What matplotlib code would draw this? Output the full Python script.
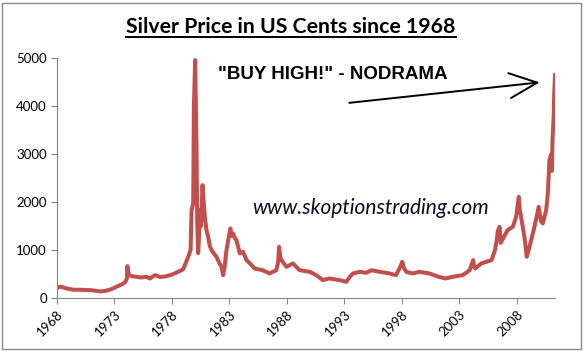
import matplotlib
matplotlib.use("Agg")
import matplotlib.pyplot as plt
from matplotlib.patches import Rectangle
from matplotlib.lines import Line2D

# silver price, US cents per ounce
years = [1968.0, 1968.2, 1968.4, 1968.6, 1969.0, 1969.45, 1970.0, 1970.6, 1971.0, 1971.5,
         1971.8, 1972.2, 1972.6, 1972.9, 1973.3, 1973.65, 1973.95, 1974.1, 1974.15, 1974.2,
         1974.3, 1974.5, 1974.95, 1975.3, 1975.8, 1976.1, 1976.55, 1977.0, 1977.55, 1978.0,
         1978.4, 1978.99, 1979.2, 1979.43, 1979.64, 1979.73, 1979.87, 1979.93, 1980.04, 1980.1,
         1980.16, 1980.22, 1980.3, 1980.38, 1980.45, 1980.55, 1980.68, 1980.78, 1980.88, 1981.0,
         1981.17, 1981.3, 1981.46, 1981.7, 1981.9, 1982.1, 1982.33, 1982.47, 1982.6, 1982.76,
         1982.95, 1983.1, 1983.2, 1983.34, 1983.5, 1983.63, 1983.8, 1983.92, 1984.2, 1984.5,
         1984.8, 1985.2, 1985.9, 1986.5, 1987.1, 1987.25, 1987.33, 1987.45, 1987.54, 1987.97,
         1988.55, 1989.1, 1990.0, 1990.57, 1991.15, 1991.7, 1992.6, 1993.18, 1993.5, 1993.76,
         1994.3, 1994.9, 1995.35, 1996.07, 1996.94, 1997.5, 1997.87, 1998.04, 1998.2, 1998.4,
         1998.96, 1999.5, 2000.4, 2001.2, 2001.8, 2002.4, 2003.3, 2003.9, 2004.2, 2004.3,
         2004.4, 2004.9, 2005.8, 2006.1, 2006.25, 2006.35, 2006.5, 2006.6, 2006.8, 2007.2,
         2007.65, 2007.94, 2008.17, 2008.25, 2008.37, 2008.66, 2008.86, 2009.1, 2009.53, 2009.9,
         2010.1, 2010.25, 2010.55, 2010.7, 2010.83, 2010.98, 2011.05, 2011.1, 2011.2, 2011.25,
         2011.32]
cents = [202, 230, 240, 220, 195, 175, 175, 170, 165, 150,
         140, 150, 175, 200, 250, 285, 330, 400, 667, 560,
         480, 460, 445, 430, 445, 410, 480, 440, 458, 490,
         530, 600, 720, 860, 1000, 1833, 1979, 3986, 4958, 4000,
         3083, 1600, 938, 1300, 1833, 1500, 2354, 2000, 1694, 1450,
         1277, 1100, 1000, 920, 860, 750, 652, 479, 650, 1000,
         1250, 1451, 1300, 1347, 1250, 1208, 1050, 931, 965, 792,
         722, 618, 583, 514, 583, 750, 1069, 850, 792, 652,
         722, 583, 548, 479, 375, 410, 375, 340, 450, 514,
         548, 528, 583, 548, 514, 479, 652, 757, 620, 548,
         514, 549, 514, 444, 410, 444, 479, 583, 792, 640,
         618, 722, 792, 1000, 1208, 1400, 1486, 1150, 1243, 1417,
         1486, 1694, 2111, 1850, 1694, 1277, 861, 1069, 1486, 1900,
         1600, 1556, 1833, 2200, 2875, 3000, 2650, 3300, 3778, 4264,
         4646]

tick_years = [1968, 1973, 1978, 1983, 1988, 1993, 1998, 2003, 2008]
y_ticks = [0, 1000, 2000, 3000, 4000, 5000]

fig = plt.figure(figsize=(5.84, 3.52), dpi=100)
ax = fig.add_axes([0.097, 0.153, 0.854, 0.682])

ax.plot(years, cents, color="#C0504D", linewidth=2.9, solid_joinstyle="round")

ax.set_xlim(1968.0, 2011.35)
ax.set_ylim(0, 5000)
ax.set_xticks(tick_years)
ax.set_xticklabels([str(y) for y in tick_years], rotation=45, ha="right",
                   rotation_mode="anchor", fontsize=9.5, family="Lato")
ax.set_yticks(y_ticks)
ax.set_yticklabels([str(v) for v in y_ticks], fontsize=9.5, family="Lato")

for side in ["top", "right"]:
    ax.spines[side].set_visible(False)
for side in ["left", "bottom"]:
    ax.spines[side].set_color("#868686")
ax.tick_params(axis="both", direction="out", length=4, color="#868686", pad=3)

# title with underline drawn under its measured extent
title = fig.text(0.4985, 0.906, "Silver Price in US Cents since 1968", ha="center",
                 va="baseline", fontsize=15.3, fontweight="bold", family="Lato")
fig.canvas.draw()
bb = title.get_window_extent().transformed(fig.transFigure.inverted())
fig.add_artist(Line2D([bb.x0, bb.x1], [1 - 36.5 / 352, 1 - 36.5 / 352],
                      color="black", linewidth=1.4))

fig.text(0.570, 0.787, '"BUY HIGH!" - NODRAMA', ha="center", va="center",
         fontsize=13.5, fontweight="bold", family="Liberation Sans")
fig.text(0.635, 0.409, "www.skoptionstrading.com", ha="center", va="center",
         fontsize=15, style="italic", family="Lato", color="#0a0a20")

# arrow pointing at the latest price
ax.annotate("", xy=(2010.22, 4500), xytext=(1993.2, 4062),
            arrowprops=dict(arrowstyle="->,head_length=1.0,head_width=0.45",
                            mutation_scale=20, color="black", linewidth=1.4))

# outer chart border
fig.add_artist(Rectangle((2 / 584, 3 / 352), 579 / 584, 346 / 352, transform=fig.transFigure,
                         fill=False, edgecolor="#888888", linewidth=1))

fig.savefig("out.png", dpi=100)
